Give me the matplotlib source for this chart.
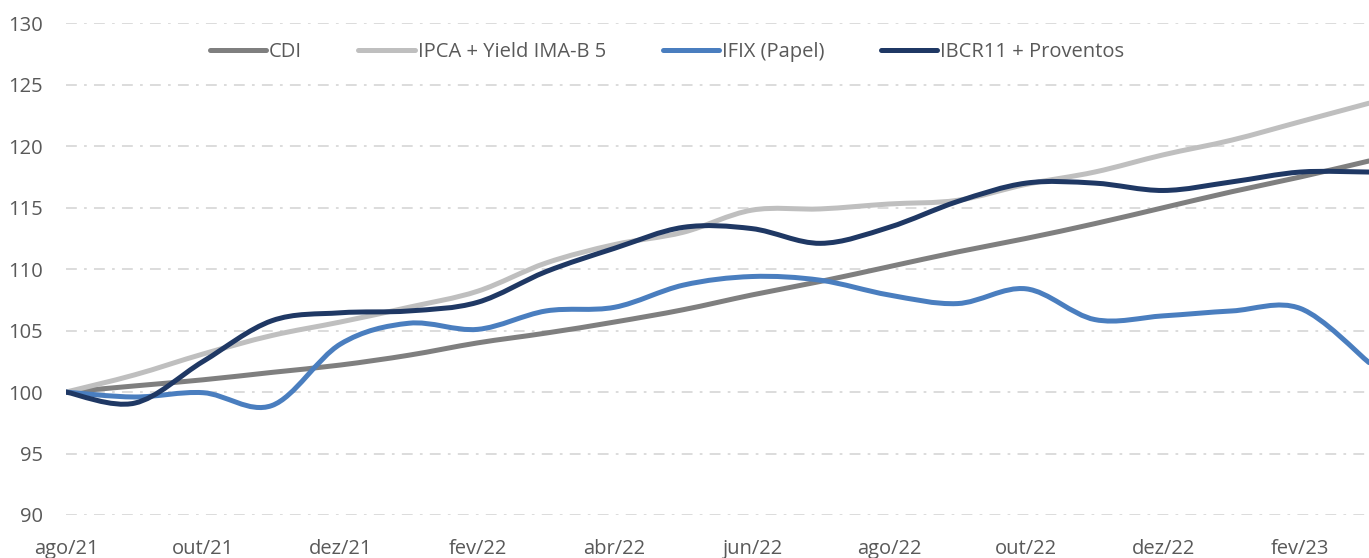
import numpy as np
import matplotlib
matplotlib.use("Agg")
import matplotlib.pyplot as plt
from matplotlib.path import Path
from matplotlib.patches import PathPatch
from matplotlib.lines import Line2D

plt.rcParams['font.family'] = ['Open Sans', 'DejaVu Sans']

# meses de ago/21 a mar/23
meses = ['ago/21', 'set/21', 'out/21', 'nov/21', 'dez/21', 'jan/22', 'fev/22',
         'mar/22', 'abr/22', 'mai/22', 'jun/22', 'jul/22', 'ago/22', 'set/22',
         'out/22', 'nov/22', 'dez/22', 'jan/23', 'fev/23', 'mar/23']

cdi = [100.0, 100.5, 101.0, 101.6, 102.2, 103.0, 104.0, 104.8, 105.7, 106.7,
       107.9, 109.0, 110.2, 111.4, 112.5, 113.7, 115.0, 116.3, 117.5, 118.8]
ipca = [100.0, 101.4, 103.1, 104.6, 105.7, 106.9, 108.2, 110.5, 112.0, 113.0,
        114.8, 114.9, 115.3, 115.6, 116.9, 117.9, 119.3, 120.5, 122.0, 123.5]
ifix = [100.0, 99.6, 99.95, 98.9, 103.9, 105.6, 105.1, 106.6, 106.9, 108.7,
        109.4, 109.1, 107.9, 107.2, 108.4, 105.9, 106.2, 106.6, 106.8, 102.4]
ibcr = [100.0, 99.1, 102.5, 105.8, 106.45, 106.6, 107.3, 109.8, 111.7, 113.4,
        113.3, 112.1, 113.4, 115.5, 117.0, 117.0, 116.4, 117.1, 117.9, 117.9]

series = [
    ('CDI', cdi, '#7f7f7f'),
    ('IPCA + Yield IMA-B 5', ipca, '#bfbfbf'),
    ('IFIX (Papel)', ifix, '#4a7ebf'),
    ('IBCR11 + Proventos', ibcr, '#1f3864'),
]

cor_texto = '#595959'


def linha_suave(ax, x, y, cor):
    # curva suavizada tipo Excel (Bezier com pontos de controle Catmull-Rom)
    p = np.column_stack([x, y]).astype(float)
    ext = np.vstack([p[0], p, p[-1]])
    verts = [tuple(p[0])]
    codes = [Path.MOVETO]
    for i in range(len(p) - 1):
        c1 = ext[i + 1] + (ext[i + 2] - ext[i]) / 6
        c2 = ext[i + 2] - (ext[i + 3] - ext[i + 1]) / 6
        verts += [tuple(c1), tuple(c2), tuple(p[i + 1])]
        codes += [Path.CURVE4] * 3
    patch = PathPatch(Path(verts, codes), fill=False, edgecolor=cor,
                      linewidth=3.6, capstyle='round', joinstyle='round',
                      transform=ax.transData, zorder=3)
    ax.add_patch(patch)


fig = plt.figure(figsize=(13.69, 5.58), dpi=100)
ax = fig.add_axes([66 / 1369, 43 / 558, 1 - 66 / 1369, (515 - 23.3) / 558])

x = np.arange(len(meses))
for nome, vals, cor in series:
    linha_suave(ax, x, vals, cor)

ax.set_xlim(0, len(meses) - 1)
ax.set_ylim(90, 130)
ax.set_yticks(np.arange(90, 131, 5))
ax.set_xticks(x[::2])
ax.set_xticklabels(meses[::2])

ax.grid(axis='y', color='#d9d9d9', linewidth=1.3, linestyle=(0, (6, 4, 1.5, 4)))
ax.set_axisbelow(True)
for s in ax.spines.values():
    s.set_visible(False)
ax.tick_params(axis='both', length=0, labelsize=14.5, labelcolor=cor_texto)
ax.tick_params(axis='y', pad=16.5)
ax.tick_params(axis='x', pad=17)

handles = [Line2D([], [], color=cor, linewidth=3.6, solid_capstyle='round')
           for _, _, cor in series]
fig.legend(handles, [s[0] for s in series], loc='center',
           bbox_to_anchor=(667 / 1369, 1 - 52 / 558), ncol=4, frameon=False,
           fontsize=14.5, labelcolor=cor_texto, handlelength=2.8,
           handletextpad=0.15, columnspacing=2.8)

fig.savefig('out.png', dpi=100)
